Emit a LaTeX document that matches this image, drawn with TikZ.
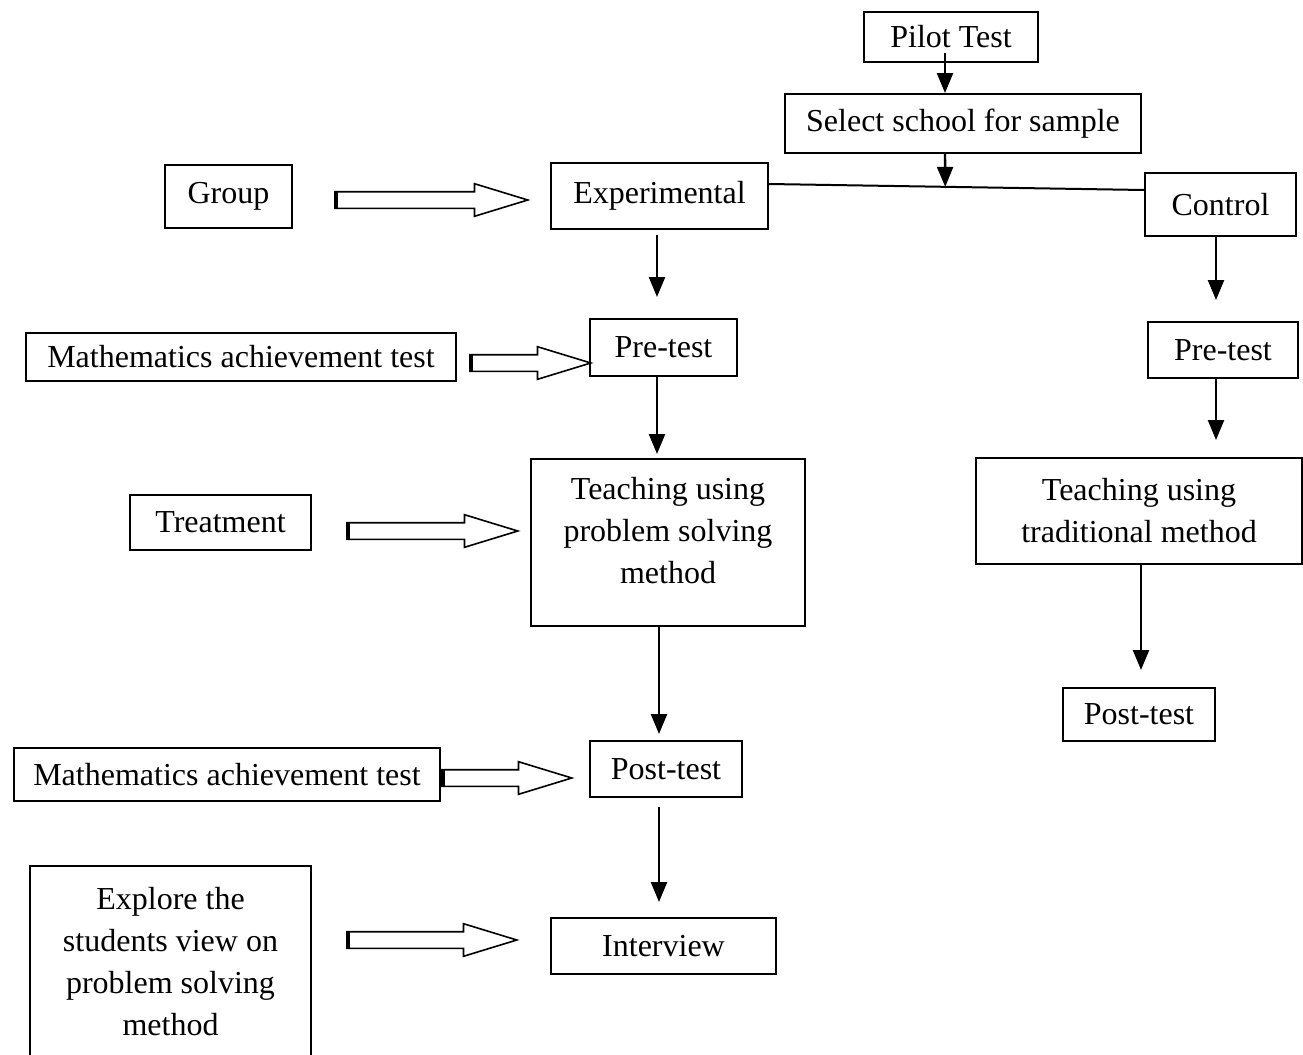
\documentclass[tikz,border=0pt]{standalone}
\usepackage{fontspec}
\setmainfont{Liberation Serif}
\usetikzlibrary{arrows.meta,shapes.arrows,calc}
\tikzset{
  stage/.style={
    % The shape:
    rectangle,
    % The size:
    inner sep=0pt,
    % The border:
    line width=1pt,draw=black,
    % The text:
    align=center,
    font=\fontsize{16}{21}\selectfont},
  px size/.style 2 args={minimum width=#1*0.5pt,minimum height=#2*0.5pt},
  hollow arrow/.style={
    % The shape:
    single arrow,single arrow tip angle=34,
    single arrow head extend=4pt,anchor=tail,
    % The size:
    inner sep=3.75pt,minimum height=#1*0.5pt,
    % The rest
    line width=0.8pt,draw=black,fill=white}
}

\begin{document}
\begin{tikzpicture}[x=0.5pt,y=-0.5pt,>={Triangle[width=8pt,length=10pt]},
                    flow/.style={->,line width=1.2pt},
                    tail mark/.style={line width=2pt}]
  \clip (0,0) rectangle (1303,1055);

  % boxes
  \node (pilot)   [stage,px size={174}{50}]  at (951,37)     {Pilot Test};
  \node (select)  [stage,px size={356}{59}]  at (963,123.5)  {Select school for sample};
  \node (group)   [stage,px size={127}{63}]  at (228.5,196.5) {Group};
  \node (exper)   [stage,px size={217}{66}]  at (659.5,196)  {Experimental};
  \node (control) [stage,px size={151}{63}]  at (1220.5,204.5) {Control};
  \node (mat1)    [stage,px size={430}{48}]  at (241,357)    {Mathematics achievement test};
  \node (preE)    [stage,px size={147}{57}]  at (663.5,347.5) {Pre-test};
  \node (preC)    [stage,px size={150}{56}]  at (1223,350)   {Pre-test};
  \node (treat)   [stage,px size={181}{55}]  at (220.5,522.5) {Treatment};
  \node (teachP)  [stage,px size={274}{167}] at (668,542.5)
    {\begin{tabular}{@{}c@{}}Teaching using\\problem solving\\method\\[9pt]\end{tabular}};
  \node (teachT)  [stage,px size={326}{106}] at (1139,511)   {Teaching using\\traditional method};
  \node (postC)   [stage,px size={152}{53}]  at (1139,714.5) {Post-test};
  \node (mat2)    [stage,px size={426}{53}]  at (227,774.5)  {Mathematics achievement test};
  \node (postE)   [stage,px size={152}{56}]  at (666,769)    {Post-test};
  \node (explore) [stage,px size={281}{192}] at (170.5,962)  {Explore the\\students view on\\problem solving\\method};
  \node (interv)  [stage,px size={225}{56}]  at (663.5,946)  {Interview};

  % hollow arrows
  \node (a1) [hollow arrow=193] at (334,200) {};
  \node (a2) [hollow arrow=121] at (469,363) {};
  \node (a3) [hollow arrow=171] at (346,531) {};
  \node (a4) [hollow arrow=130] at (441,778) {};
  \node (a5) [hollow arrow=170] at (346,940) {};
  \foreach \a in {a1,a2,a3,a4,a5}
    \draw[tail mark] ([xshift=1pt]\a.before tail) -- ([xshift=1pt]\a.after tail);

  % split line
  \coordinate (le) at ([shift={(0,-12)}]exper.east);
  \coordinate (re) at ([shift={(0,-14.5)}]control.west);
  \coordinate (split) at ($(le)!0.47!(re)$);
  \draw[line width=1pt] (le) -- (re);

  \draw[flow] ([shift={(-6,-10)}]pilot.south) -- ([shift={(-18,0)}]select.north);
  \draw[flow] ([shift={(-18,0)}]select.south) -- (split);

  \draw[flow,shorten <=2.5pt,shorten >=10.5pt] ([shift={(-2.5,0)}]exper.south) -- ([shift={(-2.5,0)}]exper.south |- preE.north);
  \draw[flow,shorten >=2pt] ([shift={(-2.5,0)}]exper.south |- preE.south) -- ([shift={(-2.5,0)}]exper.south |- teachP.north);
  \draw[flow,shorten >=3pt] ([shift={(-9,0)}]teachP.south) -- ([shift={(-9,0)}]teachP.south |- postE.north);
  \draw[flow,shorten <=4.5pt,shorten >=7.5pt] ([shift={(-7,0)}]postE.south) -- ([shift={(-7,0)}]postE.south |- interv.north);

  \draw[flow,shorten >=10.5pt] ([shift={(-4.5,0)}]control.south) -- ([shift={(-4.5,0)}]control.south |- preC.north);
  \draw[flow,shorten >=8.5pt] ([shift={(-7,0)}]preC.south) -- ([shift={(-7,0)}]preC.south |- teachT.north);
  \draw[flow,shorten >=8.5pt] ([shift={(2,0)}]teachT.south) -- ([shift={(2,0)}]teachT.south |- postC.north);
\end{tikzpicture}
\end{document}
